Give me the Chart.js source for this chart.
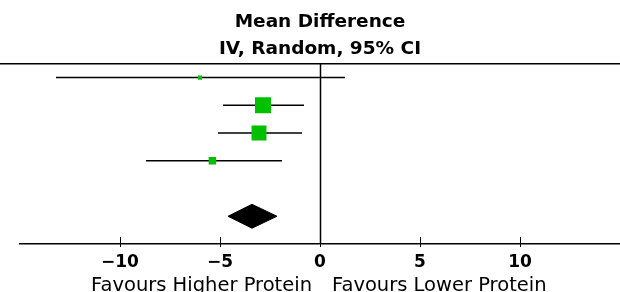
<!doctype html>
<html>
  <head>
    <title>Mean Difference forest plot</title>
    <script src="https://cdn.jsdelivr.net/npm/chart.js"></script>
    <style>
      body {
        margin: 0;
        background: #fff;
      }
      canvas {
        display: block;
      }
    </style>
  </head>
  <body>
    <canvas id="forest" width="620" height="292"></canvas>

    <script>
      // study rows (top to bottom)
      const studyRows = [1, 2, 3, 4];
      const meanDiff = [-6.0, -2.85, -3.05, -5.38];
      const ciLower = [-13.2, -4.85, -5.1, -8.7];
      const ciUpper = [1.25, -0.8, -0.9, -1.9];
      const weights = [3.3, 46.3, 40.3, 10.1]; // % weight, box area ~ weight

      // pooled estimate (diamond)
      const pooledRow = 6;
      const pooledMean = [-3.4];
      const pooledLower = [-4.6];
      const pooledUpper = [-2.15];

      const tickValues = [-10, -5, 0, 5, 10];
      const titleLines = ['Mean Difference', 'IV, Random, 95% CI'];
      const favoursLeft = 'Favours Higher Protein';
      const favoursRight = 'Favours Lower Protein';

      const FONT = 'DejaVu Sans';
      const GREEN = '#00c000';
      const diamondHalf = 0.43;

      const ciSets = studyRows.map((row, i) => ({
        type: 'line',
        data: [
          { x: ciLower[i], y: row },
          { x: ciUpper[i], y: row },
        ],
        borderColor: '#000',
        borderWidth: 1.5,
        pointRadius: 0,
        order: 2,
      }));

      const boxSet = {
        type: 'scatter',
        data: studyRows.map((row, i) => ({ x: meanDiff[i], y: row })),
        pointStyle: 'rect',
        pointRadius: weights.map((w) => (2.35 * Math.sqrt(w)) / Math.SQRT2),
        backgroundColor: GREEN,
        borderWidth: 0,
        order: 1,
      };

      const diamondSet = {
        type: 'line',
        data: [
          { x: pooledLower[0], y: pooledRow },
          { x: pooledMean[0], y: pooledRow - diamondHalf },
          { x: pooledUpper[0], y: pooledRow },
          { x: pooledMean[0], y: pooledRow + diamondHalf },
          { x: pooledLower[0], y: pooledRow },
        ],
        borderColor: '#000',
        borderWidth: 1,
        backgroundColor: '#000',
        fill: 'shape',
        pointRadius: 0,
        tension: 0,
        order: 1,
      };

      const forestExtras = {
        id: 'forestExtras',
        afterDatasetsDraw(chart) {
          const { ctx, chartArea, scales } = chart;
          const x0 = scales.x.getPixelForValue(0);
          ctx.save();
          ctx.strokeStyle = '#000';

          // top rule across the whole width
          ctx.lineWidth = 1.5;
          ctx.beginPath();
          ctx.moveTo(0, chartArea.top);
          ctx.lineTo(chart.width, chartArea.top);
          ctx.stroke();

          // line of no effect
          ctx.lineWidth = 1.5;
          ctx.beginPath();
          ctx.moveTo(Math.round(x0) + 0.5, chartArea.top);
          ctx.lineTo(Math.round(x0) + 0.5, chartArea.bottom);
          ctx.stroke();

          // tick marks pointing up
          ctx.lineWidth = 1;
          tickValues.forEach((v) => {
            const px = Math.round(scales.x.getPixelForValue(v)) + 0.5;
            ctx.beginPath();
            ctx.moveTo(px, chartArea.bottom - 7);
            ctx.lineTo(px, chartArea.bottom + 3);
            ctx.stroke();
          });

          // favours labels
          ctx.fillStyle = '#000';
          ctx.font = `19.5px "${FONT}"`;
          ctx.textBaseline = 'alphabetic';
          ctx.textAlign = 'right';
          ctx.fillText(favoursLeft, x0 - 8, 291);
          ctx.textAlign = 'left';
          ctx.fillText(favoursRight, x0 + 12, 291);
          ctx.restore();
        },
      };

      new Chart(document.getElementById('forest'), {
        type: 'scatter',
        data: { datasets: [...ciSets, boxSet, diamondSet] },
        options: {
          responsive: false,
          animation: false,
          layout: {
            autoPadding: false,
            padding: { left: 20, right: 0, top: 0, bottom: 0 },
          },
          plugins: {
            legend: { display: false },
            tooltip: { enabled: false },
            title: {
              display: true,
              fullSize: false,
              text: titleLines,
              color: '#000',
              font: { family: FONT, size: 18.5, weight: 'bold', lineHeight: 1.45 },
              padding: { top: 9, bottom: 1 },
            },
          },
          scales: {
            x: {
              type: 'linear',
              min: -15,
              max: 15,
              afterBuildTicks: (s) => {
                s.ticks = tickValues.map((v) => ({ value: v }));
              },
              afterFit: (s) => {
                s.height = 48;
              },
              grid: { drawOnChartArea: false, drawTicks: false },
              border: { display: true, color: '#000', width: 1.5 },
              ticks: {
                padding: 8,
                color: '#000',
                font: { family: FONT, size: 17, weight: 'bold' },
                callback: (v) => String(v).replace('-', '\u2212'),
              },
            },
            y: {
              type: 'linear',
              min: 0.5,
              max: 7,
              reverse: true,
              display: false,
            },
          },
        },
        plugins: [forestExtras],
      });
    </script>
  </body>
</html>
